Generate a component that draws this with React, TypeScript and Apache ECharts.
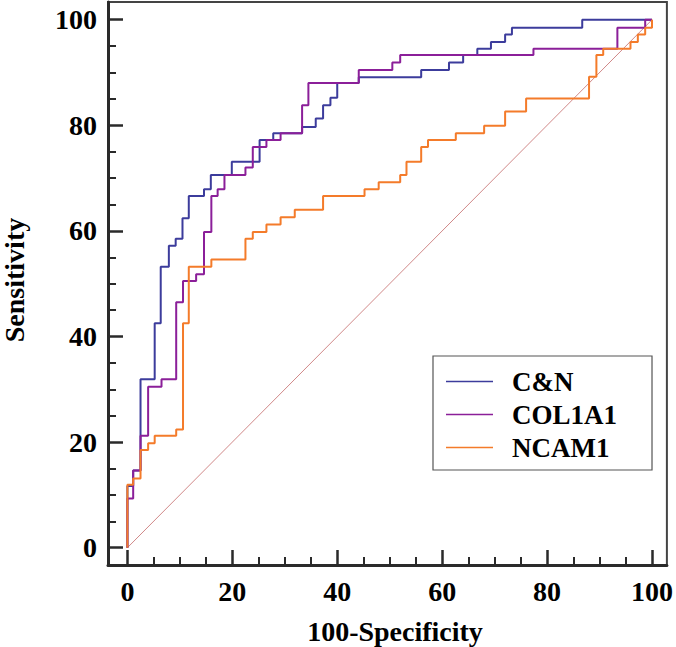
import React, { useEffect, useRef } from "react";
import * as echarts from "echarts";

const seriesNames = ["C&N", "COL1A1", "NCAM1"];
const seriesColors = ["#3c3c9c", "#8b1f99", "#f47b2a"];

// ROC step corners: [100-Specificity, Sensitivity] after each rise
const cnX = [0, 0, 1.1, 2.5, 5.2, 6.35, 7.9, 9.2, 10.5, 11.7, 14.6, 15.9, 19.9, 25.2, 27.8, 33.3, 35.9, 37.3, 38.7, 40, 44.1, 56, 61.3, 64, 66.7, 69.3, 72, 73.3, 86.7, 100];
const cnY = [0, 11.7, 14.6, 31.9, 42.5, 53.2, 57.2, 58.5, 62.4, 66.6, 67.9, 70.6, 73.1, 77.2, 78.5, 79.7, 81.3, 83.8, 85.2, 88.0, 89.1, 90.5, 91.9, 93.3, 94.5, 95.8, 97.2, 98.5, 100, 100];

const colX = [0, 0, 1.1, 2.5, 3.95, 6.5, 9.3, 10.6, 13.1, 14.6, 16, 17.2, 18.5, 22.5, 23.9, 26.5, 29.2, 33.3, 34.5, 44.1, 50.5, 52, 77.4, 93.4, 98.7, 100];
const colY = [0, 9.3, 14.6, 21.2, 30.5, 31.9, 46.5, 50.5, 51.8, 59.8, 66.6, 67.9, 70.6, 72, 75.9, 77.2, 78.5, 83.8, 88, 90.5, 91.9, 93.3, 94.5, 98.5, 100, 100];

const ncamX = [0, 0, 1.1, 2.5, 3.95, 5.2, 9.3, 10.6, 11.7, 16, 22.5, 23.9, 26.5, 29.2, 31.9, 37.3, 45.2, 47.9, 52, 53.2, 56, 57.3, 62.6, 68, 72, 76, 88, 89.4, 90.7, 95.9, 97.3, 98.7, 100];
const ncamY = [0, 11.9, 13.1, 18.5, 19.8, 21.2, 22.4, 42.5, 53.2, 54.6, 58.5, 59.8, 61.2, 62.6, 64, 66.6, 67.9, 69.2, 70.6, 73.1, 75.9, 77.2, 78.5, 79.9, 82.6, 85.1, 89.2, 93.3, 94.5, 95.8, 97.2, 98.5, 100];

const diagX = [0, 100];
const diagY = [0, 100];

const majorTicks = [0, 20, 40, 60, 80, 100];
const minorTicks = [5, 10, 15, 25, 30, 35, 45, 50, 55, 65, 70, 75, 85, 90, 95];

const xAxisName = "100-Specificity";
const yAxisName = "Sensitivity";

const zip = (xs: number[], ys: number[]) => xs.map((x, i) => [x, ys[i]]);

const FONT = "'Liberation Serif', 'Times New Roman', serif";
const AXIS_COLOR = "#2a2a2a";

export default function App() {
  const ref = useRef<HTMLDivElement>(null);
  useEffect(() => {
    if (!ref.current) return;
    const chart = echarts.init(ref.current, undefined, { renderer: "svg" });
    const labelStyle = {
      fontFamily: FONT,
      fontWeight: "bold" as const,
      fontSize: 28,
      color: "#000",
    };
    const xMin = -3.7, xMax = 102.84, yMin = -3.28, yMax = 103.36;
    const mkX = (major: boolean) => ({
      type: "value" as const,
      min: xMin,
      max: xMax,
      position: "bottom" as const,
      axisLine: { show: major, onZero: false, lineStyle: { color: AXIS_COLOR, width: 3 } },
      axisTick: {
        show: true,
        inside: true,
        length: major ? 15 : 8,
        customValues: major ? majorTicks : minorTicks,
        lineStyle: { color: AXIS_COLOR, width: major ? 2.5 : 2 },
      },
      axisLabel: major
        ? { show: true, customValues: majorTicks, margin: 12, ...labelStyle }
        : { show: false },
      splitLine: { show: false },
    });
    const mkY = (major: boolean) => ({
      type: "value" as const,
      min: yMin,
      max: yMax,
      position: "left" as const,
      axisLine: { show: major, onZero: false, lineStyle: { color: AXIS_COLOR, width: 3 } },
      axisTick: {
        show: true,
        inside: true,
        length: major ? 15 : 8,
        customValues: major ? majorTicks : minorTicks,
        lineStyle: { color: AXIS_COLOR, width: major ? 2.5 : 2 },
      },
      axisLabel: major
        ? { show: true, customValues: majorTicks, margin: 11, ...labelStyle }
        : { show: false },
      splitLine: { show: false },
    });
    const curves = [zip(cnX, cnY), zip(colX, colY), zip(ncamX, ncamY)];
    chart.setOption({
      animation: false,
      backgroundColor: "#fff",
      grid: {
        left: 108,
        right: 6,
        top: 2,
        bottom: 82,
        show: true,
        borderColor: "#444",
        borderWidth: 2,
        backgroundColor: "transparent",
      },
      xAxis: [mkX(true), mkX(false)],
      yAxis: [mkY(true), mkY(false)],
      legend: {
        data: seriesNames,
        orient: "vertical",
        left: 433,
        top: 356,
        padding: [12, 35, 9, 13],
        icon: "rect",
        itemWidth: 47,
        itemHeight: 1.5,
        itemGap: 6,
        backgroundColor: "#fff",
        borderColor: "#555",
        borderWidth: 1.2,
        textStyle: {
          fontFamily: FONT,
          fontWeight: "bold",
          fontSize: 27,
          color: "#000",
          padding: [0, 0, 0, 14],
        },
      },
      graphic: [
        {
          type: "text",
          x: 395,
          y: 631,
          style: {
            text: xAxisName,
            fontFamily: FONT,
            fontWeight: "bold",
            fontSize: 28,
            fill: "#000",
            align: "center",
            verticalAlign: "middle",
          },
        },
        {
          type: "text",
          x: 14.5,
          y: 280,
          rotation: Math.PI / 2,
          style: {
            text: yAxisName,
            fontFamily: FONT,
            fontWeight: "bold",
            fontSize: 28,
            fill: "#000",
            align: "center",
            verticalAlign: "middle",
          },
        },
      ],
      series: [
        {
          name: "ref",
          type: "line",
          data: zip(diagX, diagY),
          symbol: "none",
          silent: true,
          lineStyle: { color: "#c46a6a", width: 0.8 },
        },
        ...seriesNames.map((name, i) => ({
          name,
          type: "line",
          step: "end",
          data: curves[i],
          symbol: "none",
          color: seriesColors[i],
          lineStyle: { color: seriesColors[i], width: 2 },
        })),
      ],
    });
    return () => chart.dispose();
  }, []);
  return <div ref={ref} style={{ width: 676, height: 647, position: "absolute", left: 0, top: 0 }} />;
}
